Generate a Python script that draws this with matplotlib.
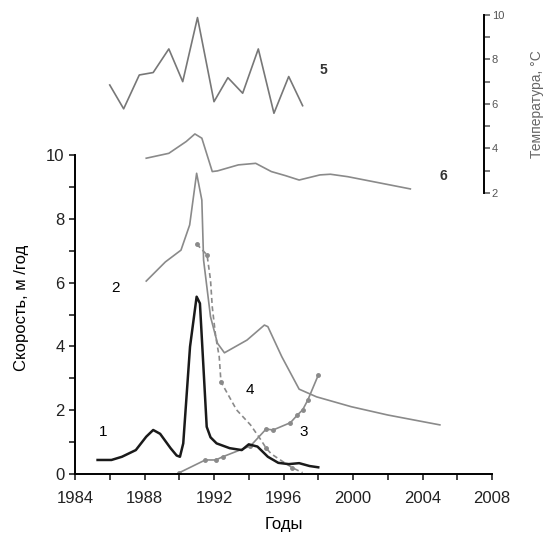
import matplotlib
matplotlib.use("Agg")
import matplotlib.pyplot as plt
from matplotlib.ticker import MultipleLocator, FixedLocator

plt.rcParams['font.family'] = ['Liberation Sans', 'DejaVu Sans']

# 1 - скорость (чёрная кривая)
years1 = [1985.3, 1986.1, 1986.7, 1987.5, 1988.1, 1988.5, 1988.9, 1989.5, 1989.85, 1990.04,
          1990.23, 1990.62, 1991.0, 1991.19, 1991.38, 1991.58, 1991.8, 1992.15, 1992.9, 1993.6,
          1994.0, 1994.5, 1995.1, 1995.7, 1996.3, 1996.9, 1997.5, 1998.0]
vel1 = [0.44, 0.44, 0.54, 0.75, 1.17, 1.38, 1.26, 0.81, 0.58, 0.54,
        0.96, 3.99, 5.56, 5.35, 3.47, 1.48, 1.15, 0.96, 0.81, 0.75,
        0.93, 0.86, 0.54, 0.35, 0.31, 0.34, 0.25, 0.21]

# 2 - скорость (серая кривая)
years2 = [1988.1, 1989.2, 1990.1, 1990.6, 1991.0, 1991.3, 1991.4, 1991.8, 1992.2, 1992.6,
          1993.9, 1994.9, 1995.1, 1995.9, 1996.9, 1997.9, 1999.9, 2002.0, 2005.0]
vel2 = [6.05, 6.65, 7.02, 7.81, 9.43, 8.59, 6.71, 4.93, 4.10, 3.80,
        4.20, 4.67, 4.62, 3.68, 2.66, 2.42, 2.11, 1.85, 1.54]

# 3 - с маркерами
years3 = [1990.0, 1991.5, 1992.1, 1992.5, 1994.1, 1995.0, 1995.4, 1996.4, 1996.8, 1997.1, 1997.4, 1998.0]
vel3 = [0.04, 0.44, 0.44, 0.54, 0.88, 1.41, 1.38, 1.61, 1.85, 2.01, 2.32, 3.10]

# 4 - пунктир
years4 = [1991.0, 1991.6, 1991.8, 1991.9, 1992.1, 1992.3, 1992.4, 1993.3, 1994.1, 1994.7,
          1995.0, 1995.3, 1995.9, 1996.5, 1997.1]
vel4 = [7.21, 6.87, 6.08, 5.24, 4.30, 3.68, 2.89, 2.01, 1.54, 1.07,
        0.81, 0.63, 0.41, 0.20, 0.04]

# 5, 6 - температура
years5 = [1986.0, 1986.8, 1987.7, 1988.5, 1989.4, 1990.2, 1991.05, 1992.0, 1992.8, 1993.65,
          1994.55, 1995.45, 1996.3, 1997.1]
temp5 = [6.85, 5.78, 7.30, 7.41, 8.47, 7.00, 9.88, 6.10, 7.18, 6.48,
         8.47, 5.58, 7.23, 5.92]

years6 = [1988.1, 1989.4, 1990.4, 1990.9, 1991.3, 1991.9, 1992.2, 1993.4, 1994.4, 1995.3,
          1996.1, 1996.9, 1998.1, 1998.7, 1999.7, 2001.6, 2003.3]
temp6 = [3.56, 3.78, 4.31, 4.65, 4.46, 2.96, 2.99, 3.26, 3.33, 2.96,
         2.78, 2.58, 2.81, 2.84, 2.73, 2.44, 2.18]

fig = plt.figure(figsize=(5.52, 5.38), dpi=100)
ax = fig.add_axes([75 / 552, 64 / 538, 417 / 552, 464 / 538])

ax.plot(years2, vel2, color='#8a8a8a', lw=1.2)
ax.plot(years3, vel3, color='#8a8a8a', lw=1.2, marker='o', ms=2.5)
ax.plot(years4, vel4, color='#8a8a8a', lw=1.2, ls=(0, (3, 2)), marker='o', ms=2.5,
        markevery=[0, 1, 6, 10, 13])
ax.plot(years1, vel1, color='#1a1a1a', lw=1.8)

ax.set_xlim(1984, 2008)
ax.set_ylim(0, 14.55)
ax.spines['top'].set_visible(False)
ax.spines['right'].set_visible(False)
ax.spines['left'].set_bounds(0, 10)
ax.spines['left'].set_linewidth(1.4)
ax.spines['bottom'].set_linewidth(1.4)
ax.set_yticks([0, 2, 4, 6, 8, 10])
ax.yaxis.set_minor_locator(FixedLocator([1, 3, 5, 7, 9]))
ax.set_xticks(range(1984, 2009, 4))
ax.xaxis.set_minor_locator(MultipleLocator(2))
ax.tick_params(which='both', direction='out', length=4, width=1.2, labelsize=12, colors='#222222')
ax.tick_params(axis='x', pad=8)
ax.set_xlabel('Годы', fontsize=12, labelpad=8)
ax.set_ylabel('Скорость, м /год', fontsize=12, labelpad=8)
ax.yaxis.set_label_coords(-0.11, 10 / 14.55 * 0.52)

ax.text(1985.4, 1.2, '1', fontsize=11)
ax.text(1986.1, 5.7, '2', fontsize=11)
ax.text(1996.9, 1.2, '3', fontsize=11)
ax.text(1993.8, 2.5, '4', fontsize=11)

ax2 = ax.twinx()
ax2.plot(years5, temp5, color='#777777', lw=1.2)
ax2.plot(years6, temp6, color='#8a8a8a', lw=1.2)
ax2.set_ylim(-10.63, 10.22)
for s in ['top', 'left', 'bottom']:
    ax2.spines[s].set_visible(False)
ax2.spines['right'].set_position(('axes', (483.5 - 75) / 417))
ax2.spines['right'].set_bounds(2, 10)
ax2.spines['right'].set_linewidth(1.4)
ax2.set_yticks([2, 4, 6, 8, 10])
ax2.yaxis.set_minor_locator(FixedLocator([3, 5, 7, 9]))
ax2.tick_params(which='both', direction='out', length=4, width=1.1, labelsize=8, colors='#555555', pad=2)
ax2.set_ylabel('Температура, °С', fontsize=10, color='#666666', labelpad=6)
ax2.yaxis.set_label_coords(1.09, (6 + 10.63) / 20.85)

ax2.text(1998.1, 7.35, '5', fontsize=10, fontweight='bold', color='#333333')
ax2.text(2005.0, 2.6, '6', fontsize=10, fontweight='bold', color='#333333')

fig.savefig('out.png', dpi=100)
